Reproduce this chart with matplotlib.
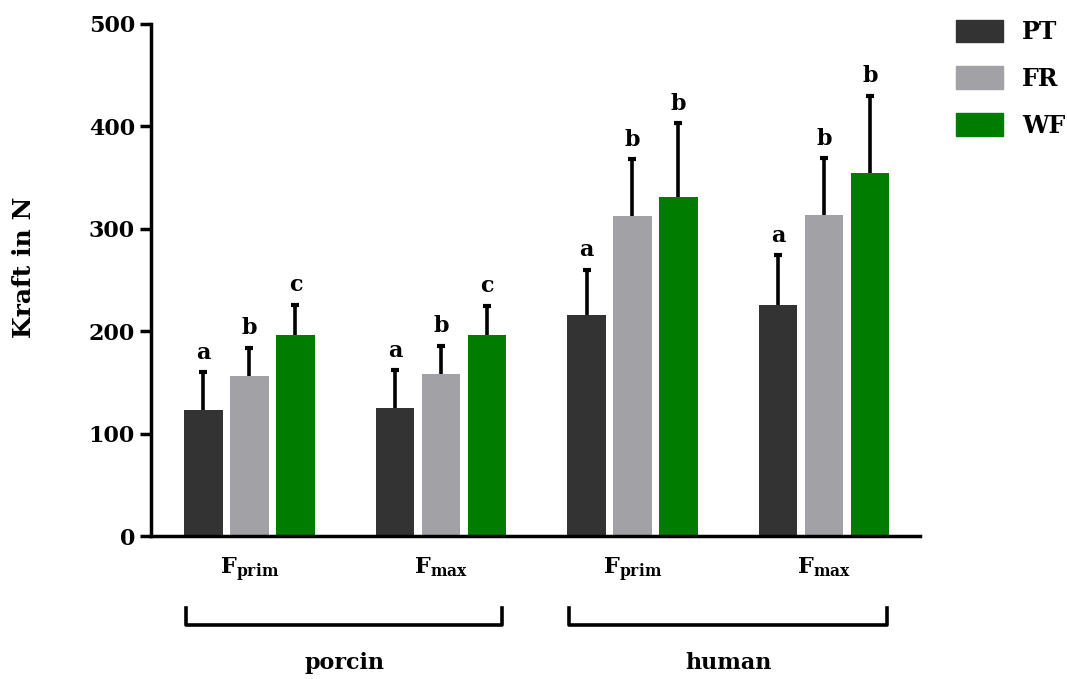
import numpy as np
import matplotlib
matplotlib.use("Agg")
import matplotlib.pyplot as plt
from matplotlib.patches import Patch

plt.rcParams['font.family'] = ['DejaVu Serif']
plt.rcParams['font.weight'] = 'bold'
plt.rcParams['mathtext.fontset'] = 'dejavuserif'

# data
groups = [r'$\mathbf{F}_{\mathbf{prim}}$', r'$\mathbf{F}_{\mathbf{max}}$',
          r'$\mathbf{F}_{\mathbf{prim}}$', r'$\mathbf{F}_{\mathbf{max}}$']
series = ['PT', 'FR', 'WF']
pt = [123, 125, 216, 226]
fr = [156, 158, 312, 313]
wf = [196, 196, 331, 354]
pt_err = [37, 37, 44, 48]
fr_err = [28, 28, 56, 56]
wf_err = [30, 29, 72, 76]
pt_sig = ['a', 'a', 'a', 'a']
fr_sig = ['b', 'b', 'b', 'b']
wf_sig = ['c', 'c', 'b', 'b']
species = ['porcin', 'human']

colors = ['#333333', '#a2a1a5', '#007c00']

fig = plt.figure(figsize=(10.67, 6.79), dpi=100)
ax = fig.add_axes([0.1415, 0.2106, 0.7205, 0.7541])

x = np.arange(len(groups))
w = 0.2
off = 0.24
vals = [pt, fr, wf]
errs = [pt_err, fr_err, wf_err]
sigs = [pt_sig, fr_sig, wf_sig]
for i in range(3):
    xs = x + (i - 1) * off
    ax.bar(xs, vals[i], w, color=colors[i], label=series[i], zorder=2)
    eb = ax.errorbar(xs, vals[i], yerr=[np.zeros(4), errs[i]], fmt='none',
                     ecolor='black', elinewidth=2.6, capsize=3, capthick=3,
                     zorder=3)
    eb[1][0].set_visible(False)  # only the upper cap
    for xi, v, e, s in zip(xs, vals[i], errs[i], sigs[i]):
        ax.annotate(s, (xi, v + e), xytext=(0, 6), textcoords='offset points',
                    ha='center', va='bottom', fontsize=16, fontweight='bold')

ax.set_xlim(-0.514, 3.5)
ax.set_ylim(0, 500)
ax.set_yticks([0, 100, 200, 300, 400, 500])
ax.set_xticks(x)
ax.set_xticklabels(groups, fontsize=16)
ax.tick_params(axis='y', labelsize=16, width=2.5, length=8, direction='out')
ax.tick_params(axis='x', length=0, pad=14)
for sp in ['top', 'right']:
    ax.spines[sp].set_visible(False)
for sp in ['left', 'bottom']:
    ax.spines[sp].set_linewidth(2.5)
ax.set_ylabel('Kraft in N', fontsize=18, fontweight='bold')
ax.yaxis.set_label_coords(-0.150, 0.525)

# group brackets below the axis
trans = ax.get_xaxis_transform()
spans = [(-0.33, 1.32), (1.67, 3.33)]
for (a, b), name in zip(spans, species):
    ax.plot([a, a, b, b], [-0.1406, -0.174, -0.174, -0.1406], color='black',
            lw=2.6, transform=trans, clip_on=False)
    ax.text((a + b) / 2, -0.248, name, transform=trans, ha='center',
            va='center', fontsize=16, fontweight='bold')

handles = [Patch(color=c) for c in colors]
fig.legend(handles, series, loc='upper left', bbox_to_anchor=(0.887, 0.985),
           frameon=False, fontsize=17, handlelength=2.0, handleheight=1.1,
           labelspacing=0.95, handletextpad=0.8, borderaxespad=0)

fig.savefig('out.png', dpi=100)
